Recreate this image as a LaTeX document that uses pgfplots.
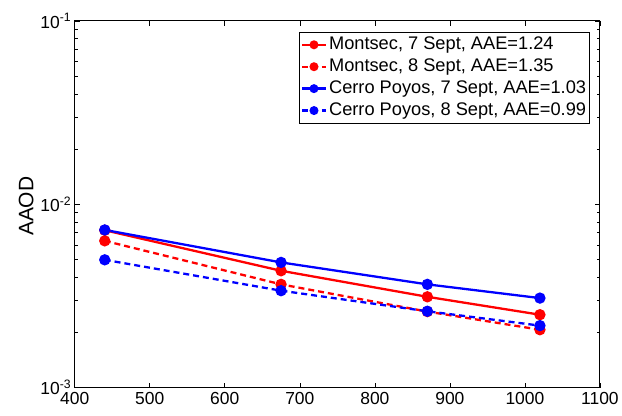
\documentclass[border=0pt]{standalone}
\usepackage{fontspec}
\setmainfont{Liberation Sans}
\usepackage{pgfplots}
\pgfplotsset{compat=1.18}

\definecolor{mred}{RGB}{255,0,0}
\definecolor{mblue}{RGB}{0,0,255}

\begin{document}
\begin{tikzpicture}
\begin{axis}[
  at={(0pt,0pt)}, anchor=south west,
  scale only axis,
  width=527pt, height=368pt,
  xmin=400, xmax=1100,
  ymode=log, ymin=1e-3, ymax=1e-1,
  xtick={400,500,...,1100},
  ytick={0.001,0.01,0.1},
  yticklabels={10\textsuperscript{-3},10\textsuperscript{-2},10\textsuperscript{-1}},
  /pgf/number format/assume math mode=true,
  /pgf/number format/1000 sep={},
  tick label style={font=\fontsize{17.5}{20}\selectfont},
  xticklabel style={yshift=-1pt},
  ylabel={AAOD},
  ylabel style={font=\fontsize{21}{24}\selectfont, xshift=-2pt},
  major tick length=5pt, minor tick length=3pt,
  axis line style={line width=0.9pt},
  tick style={line width=0.6pt, black},
  legend style={at={(rel axis cs:0.981,0.970)}, anchor=north east,
    draw=black, line width=0.8pt, font=\fontsize{18.3}{22}\selectfont,
    inner sep=1.5pt, row sep=0pt,
    nodes={text height=13.5pt, text depth=4.5pt},
    cells={anchor=west}},
  legend image code/.code={
    \draw[mark repeat=2,mark phase=2,#1,mark size=3.3pt]
      plot coordinates {(0pt,0pt) (12pt,0pt) (24pt,0pt)};},
  every axis plot/.append style={line width=2.3pt, mark=*, mark size=4.5pt},
]
\addplot[color=mred, mark options={solid}] coordinates {
  (440,0.00722) (675,0.00434) (870,0.00313) (1020,0.00250)};
\addlegendentry{Montsec, 7 Sept, AAE=1.24}
\addplot[color=mred, dash pattern=on 6pt off 4pt, mark options={solid}] coordinates {
  (440,0.00632) (675,0.00366) (870,0.00260) (1020,0.00207)};
\addlegendentry{Montsec, 8 Sept, AAE=1.35}
\addplot[color=mblue, mark options={solid}] coordinates {
  (440,0.00725) (675,0.00482) (870,0.00366) (1020,0.00308)};
\addlegendentry{Cerro Poyos, 7 Sept, AAE=1.03}
\addplot[color=mblue, dash pattern=on 6pt off 4pt, mark options={solid}] coordinates {
  (440,0.00498) (675,0.00338) (870,0.00261) (1020,0.00218)};
\addlegendentry{Cerro Poyos, 8 Sept, AAE=0.99}
\end{axis}
\path[use as bounding box] (-75pt,-28pt) rectangle (547pt,389pt);
\end{tikzpicture}
\end{document}
